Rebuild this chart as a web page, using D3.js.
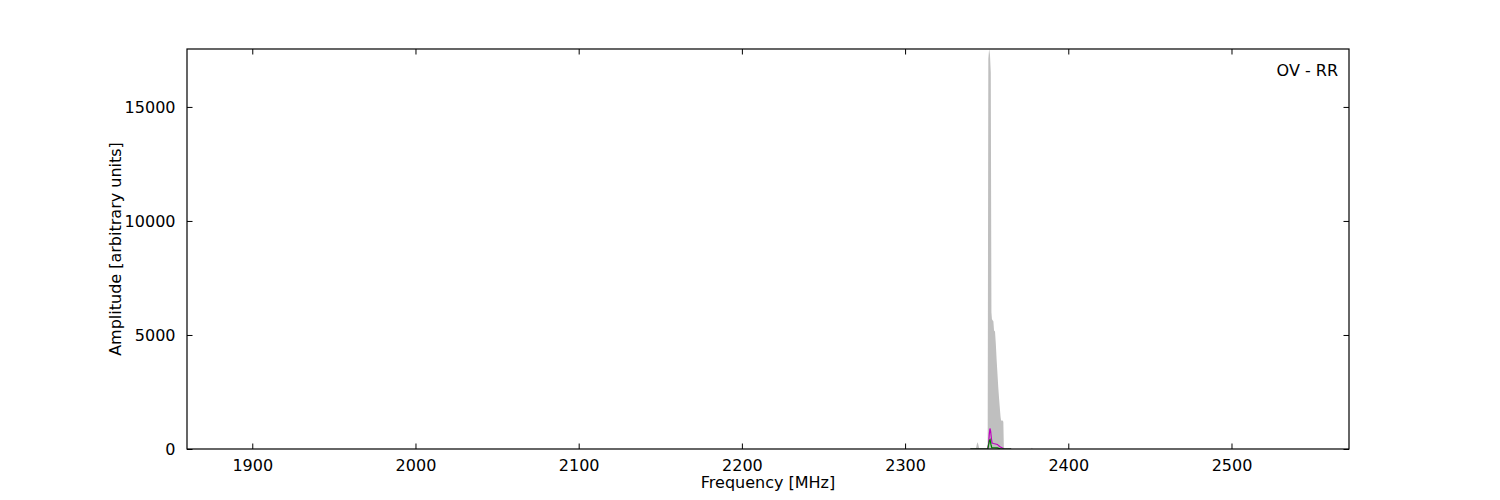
<!DOCTYPE html>
<html>
<head>
<meta charset="utf-8">
<script src="https://cdn.jsdelivr.net/npm/d3@7"></script>
<style>
  html, body { margin: 0; padding: 0; background: #fff; }
  svg { display: block; }
  text { font-family: "DejaVu Sans", sans-serif; fill: #000; }
</style>
</head>
<body>
<svg id="chart" width="1500" height="500"></svg>
<script>
// ---- data ----
const xDomain = [1860, 2572];
const yDomain = [0, 17540];
const xTicks = [1900, 2000, 2100, 2200, 2300, 2400, 2500];
const yTicks = [0, 5000, 10000, 15000];

const grayFreq = [1860, 2342.5, 2343.5, 2344.0, 2344.5, 2345.0, 2345.5, 2350.0, 2350.6, 2351.0, 2351.5, 2352.0, 2352.5, 2352.9, 2353.2, 2353.6, 2354.1, 2354.5, 2355.1, 2355.6, 2356.1, 2356.6, 2357.1, 2357.6, 2358.1, 2358.5, 2358.8, 2359.2, 2359.7, 2360.2, 2360.5, 2361.0, 2377.2, 2377.7, 2378.2, 2572];
const grayAmp  = [0,    0,      50,     220,    300,    150,    0,      0,      200,    17100,  17540,  17300,  16500,  6000,   5700,   5650,   5600,   5200,   5150,   4600,   3900,   3300,   2700,   2200,   1750,   1400,   1250,   1250,   1250,   1200,   100,    0,      0,      60,     0,      0];

const magFreq = [2340, 2350.6, 2351.2, 2351.6, 2352.0, 2352.4, 2352.9, 2353.3, 2354.2, 2355.4, 2356.6, 2357.4, 2358.4, 2359.6, 2360.5, 2365];
const magAmp  = [0,    0,      250,    650,    900,    780,    450,    260,    240,    220,    200,    140,    90,     40,     0,      0];

const grnFreq = [2340, 2350.7, 2351.3, 2351.7, 2352.1, 2352.6, 2353.1, 2354.5, 2356.5, 2357.5, 2358.5, 2359.5, 2365];
const grnAmp  = [0,    0,      220,    380,    410,    200,    60,     55,     50,     30,     10,     0,      0];

const xLabel = "Frequency [MHz]";
const yLabel = "Amplitude [arbitrary units]";
const panelLabel = "OV - RR";

// ---- layout ----
const m = { left: 187, right: 1349, top: 49, bottom: 449 };

const svg = d3.select("#chart");
const x = d3.scaleLinear().domain(xDomain).range([m.left, m.right]);
const y = d3.scaleLinear().domain(yDomain).range([m.bottom, m.top]);

svg.append("defs").append("clipPath").attr("id", "clip")
  .append("rect").attr("x", m.left).attr("y", m.top)
  .attr("width", m.right - m.left).attr("height", m.bottom - m.top);

const plot = svg.append("g").attr("clip-path", "url(#clip)");

const grayData = grayFreq.map((f, i) => [f, grayAmp[i]]);
const magData = magFreq.map((f, i) => [f, magAmp[i]]);
const grnData = grnFreq.map((f, i) => [f, grnAmp[i]]);

plot.append("path")
  .datum(grayData)
  .attr("fill", "#bfbfbf")
  .attr("stroke", "none")
  .attr("d", d3.area().x(d => x(d[0])).y0(y(0)).y1(d => y(d[1])));

plot.append("path")
  .datum(magData)
  .attr("fill", "none")
  .attr("stroke", "#bf00bf")
  .attr("stroke-width", 1.2)
  .attr("d", d3.line().x(d => x(d[0])).y(d => y(d[1])));

plot.append("path")
  .datum(grnData)
  .attr("fill", "none")
  .attr("stroke", "#008000")
  .attr("stroke-width", 1.2)
  .attr("d", d3.line().x(d => x(d[0])).y(d => y(d[1])));

// ---- axes (ticks inward on all four sides) ----
const tickLen = 5.5;
const fs = "16px";

const xAxisB = d3.axisBottom(x).tickValues(xTicks).tickSizeInner(-tickLen).tickSizeOuter(0).tickPadding(tickLen + 5).tickFormat(d3.format("d"));
const xAxisT = d3.axisTop(x).tickValues(xTicks).tickSizeInner(-tickLen).tickSizeOuter(0).tickFormat("");
const yAxisL = d3.axisLeft(y).tickValues(yTicks).tickSizeInner(-tickLen).tickSizeOuter(0).tickPadding(tickLen + 6).tickFormat(d3.format("d"));
const yAxisR = d3.axisRight(y).tickValues(yTicks).tickSizeInner(-tickLen).tickSizeOuter(0).tickFormat("");

function style(g) {
  g.select(".domain").remove();
  g.selectAll(".tick line").attr("stroke", "#000").attr("stroke-width", 1);
  g.selectAll(".tick text").style("font-size", fs).style("font-family", "DejaVu Sans").attr("fill", "#000");
}

svg.append("g").attr("transform", `translate(0,${m.bottom})`).call(xAxisB).call(style);
svg.append("g").attr("transform", `translate(0,${m.top})`).call(xAxisT).call(style);
svg.append("g").attr("transform", `translate(${m.left},0)`).call(yAxisL).call(style);
svg.append("g").attr("transform", `translate(${m.right},0)`).call(yAxisR).call(style);

// frame
svg.append("rect")
  .attr("x", m.left).attr("y", m.top)
  .attr("width", m.right - m.left).attr("height", m.bottom - m.top)
  .attr("fill", "none").attr("stroke", "#000").attr("stroke-width", 1.2);

// labels
svg.append("text")
  .attr("x", (m.left + m.right) / 2).attr("y", 488)
  .attr("text-anchor", "middle")
  .style("font-size", fs)
  .text(xLabel);

svg.append("text")
  .attr("transform", `translate(121,${(m.top + m.bottom) / 2}) rotate(-90)`)
  .attr("text-anchor", "middle")
  .style("font-size", fs)
  .text(yLabel);

svg.append("text")
  .attr("x", 1338).attr("y", 76)
  .attr("text-anchor", "end")
  .style("font-size", fs)
  .text(panelLabel);
</script>
</body>
</html>
